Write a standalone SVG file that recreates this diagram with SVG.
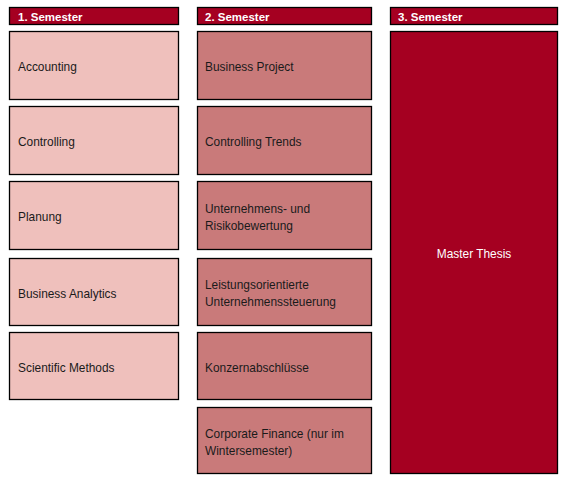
<svg xmlns="http://www.w3.org/2000/svg" width="566" height="479" viewBox="0 0 566 479">
<style>
rect{stroke:#000;stroke-width:1.3}
.h{fill:#A50021}
.c1{fill:#EFC0BC}
.c2{fill:#C97A7A}
.c3{fill:#A50021}
text{font-family:"Liberation Sans",Arial,sans-serif;font-size:11.9px;fill:#1a1a1a}
.ht{font-weight:bold;fill:#fff;font-size:11.5px}
.wt{fill:#fff}
</style>
<rect width="566" height="479" fill="#fff" style="stroke:none"/>
<g id="h1"><rect class="h" x="9.5" y="7.5" width="169" height="17"/><text class="ht" x="18" y="20.5">1. Semester</text></g>
<g id="h2"><rect class="h" x="197.5" y="7.5" width="174" height="17"/><text class="ht" x="205" y="20.5">2. Semester</text></g>
<g id="h3"><rect class="h" x="390.5" y="7.5" width="167" height="17"/><text class="ht" x="398" y="20.5">3. Semester</text></g>

<g id="accounting"><rect class="c1" x="9.5" y="31.5" width="169" height="68"/><text x="18" y="70.5">Accounting</text></g>
<g id="controlling"><rect class="c1" x="9.5" y="106.5" width="169" height="68"/><text x="18" y="146">Controlling</text></g>
<g id="planung"><rect class="c1" x="9.5" y="181.5" width="169" height="68"/><text x="18" y="221">Planung</text></g>
<g id="business-analytics"><rect class="c1" x="9.5" y="258.5" width="169" height="67"/><text x="18" y="297.5">Business Analytics</text></g>
<g id="scientific-methods"><rect class="c1" x="9.5" y="332.5" width="169" height="67"/><text x="18" y="371.5">Scientific Methods</text></g>

<g id="business-project"><rect class="c2" x="197.5" y="31.5" width="174" height="68"/><text x="205" y="70.5">Business Project</text></g>
<g id="controlling-trends"><rect class="c2" x="197.5" y="106.5" width="174" height="68"/><text x="205" y="146">Controlling Trends</text></g>
<g id="risikobewertung"><rect class="c2" x="197.5" y="181.5" width="174" height="68"/><text x="205" y="213">Unternehmens- und</text><text x="205" y="230">Risikobewertung</text></g>
<g id="unternehmenssteuerung"><rect class="c2" x="197.5" y="258.5" width="174" height="67"/><text x="205" y="289">Leistungsorientierte</text><text x="205" y="306">Unternehmenssteuerung</text></g>
<g id="konzernabschluesse"><rect class="c2" x="197.5" y="332.5" width="174" height="67"/><text x="205" y="371.5">Konzernabschlüsse</text></g>
<g id="corporate-finance"><rect class="c2" x="197.5" y="407.5" width="174" height="66"/><text x="205" y="437.5">Corporate Finance (nur im</text><text x="205" y="454.5">Wintersemester)</text></g>

<g id="master-thesis"><rect class="c3" x="390.5" y="31.5" width="167" height="442"/><text class="wt" x="474" y="258" text-anchor="middle">Master Thesis</text></g>
<g id="connectors"/>
</svg>
